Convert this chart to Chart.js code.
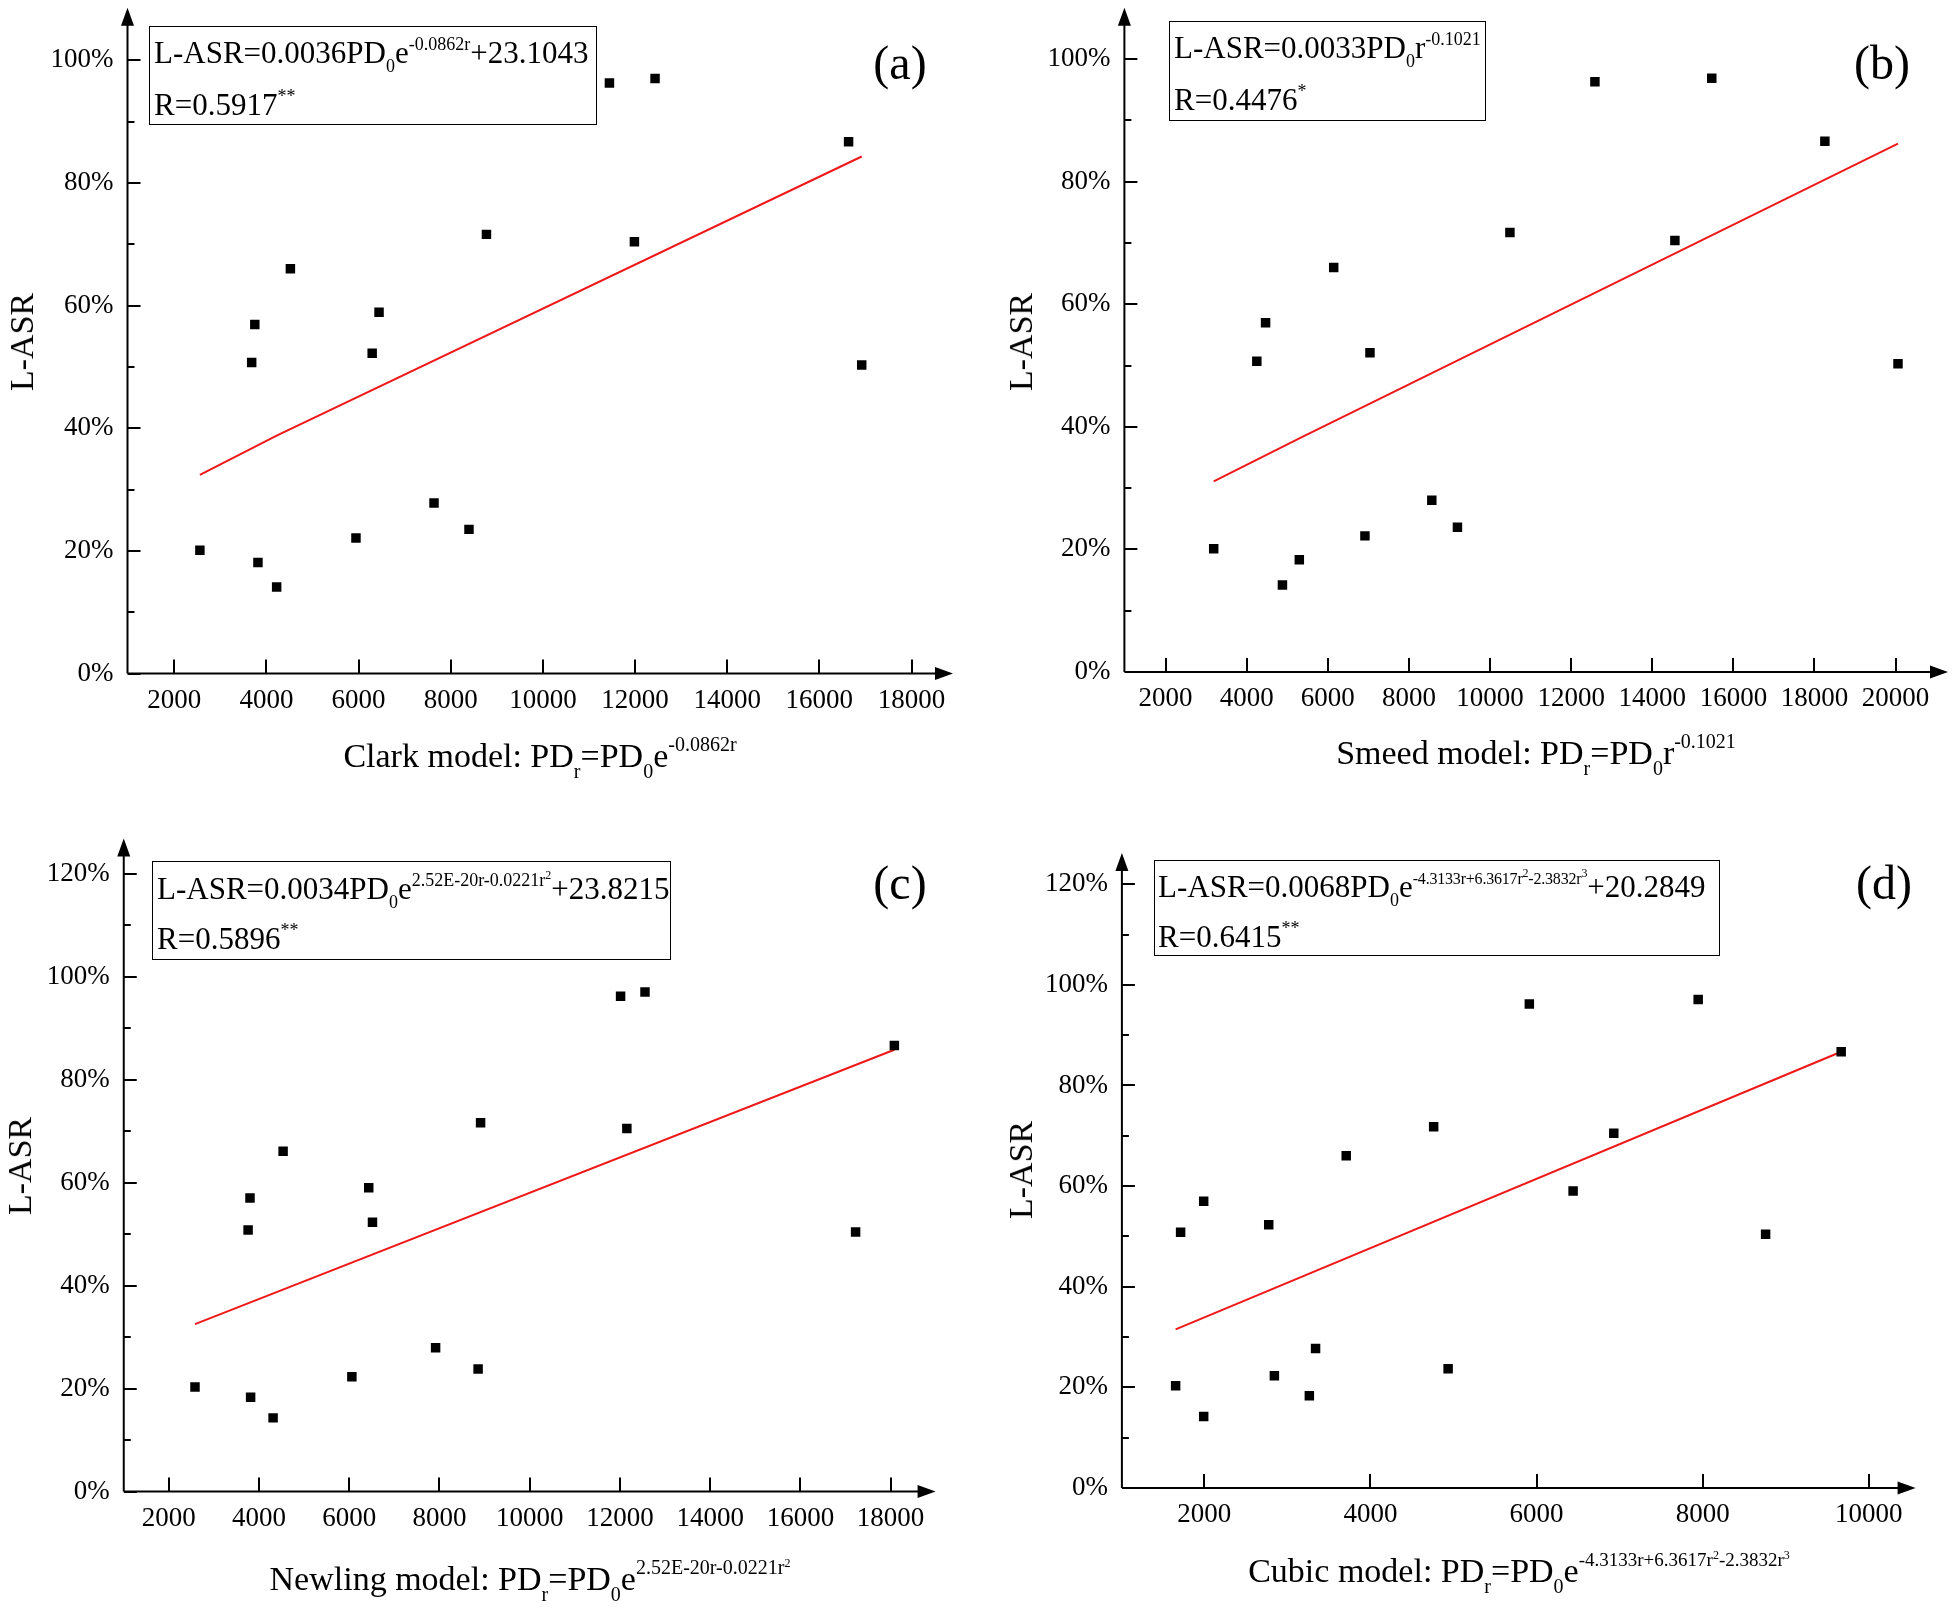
<!DOCTYPE html>
<html>
<head>
<meta charset="utf-8">
<script src="https://cdn.jsdelivr.net/npm/chart.js@4/dist/chart.umd.min.js"></script>
<style>
  body { margin: 0; background: #fff; }
  #wrap { position: relative; width: 1960px; height: 1608px; overflow: hidden; background: #fff;
          font-family: "Liberation Serif", "Times New Roman", serif; color: #000; }
  canvas { position: absolute; }
  .txt { position: absolute; white-space: nowrap; }
  .box { position: absolute; border: 1.5px solid #000; box-sizing: border-box; }
  .sb, .sp, .sp2 { position: relative; }
  .t34 { font-size: 34px; line-height: 34px; }
  .t34 .sb { font-size: 20px; top: 11px; }
  .t34 .sp { font-size: 20px; top: -16px; }
  .t31 { font-size: 31px; line-height: 31px; }
  .t31 .sb { font-size: 18px; top: 9px; }
  .t31 .sp { font-size: 18px; top: -13px; }
  .t31 .sp.narrow { font-size: 16px; letter-spacing: -0.2px; }
  .t34 .sp.narrow { font-size: 19px; }
  .sp .sp2 { font-size: 12px; top: -7px; }
  .lab { font-size: 48px; line-height: 48px; width: 100px; text-align: center; }
  .ytitle { font-size: 34px; line-height: 34px; transform: translate(-50%, -50%) rotate(-90deg); }
  .xtitle { width: 900px; text-align: center; }
</style>
</head>
<body>
<div id="wrap">
  <canvas id="chartA"></canvas>
  <canvas id="chartB"></canvas>
  <canvas id="chartC"></canvas>
  <canvas id="chartD"></canvas>

  <!-- y axis titles -->
  <div class="txt ytitle" style="left:22px;top:342px">L-ASR</div>
  <div class="txt ytitle" style="left:1021px;top:342px">L-ASR</div>
  <div class="txt ytitle" style="left:20px;top:1166px">L-ASR</div>
  <div class="txt ytitle" style="left:1021px;top:1170px">L-ASR</div>

  <!-- x axis titles -->
  <div class="txt t34 xtitle" style="left:90px;top:739px">Clark model: PD<span class="sb">r</span>=PD<span class="sb">0</span>e<span class="sp">-0.0862r</span></div>
  <div class="txt t34 xtitle" style="left:1086px;top:736px">Smeed model: PD<span class="sb">r</span>=PD<span class="sb">0</span>r<span class="sp">-0.1021</span></div>
  <div class="txt t34 xtitle" style="left:80px;top:1562px">Newling model: PD<span class="sb">r</span>=PD<span class="sb">0</span>e<span class="sp">2.52E-20r-0.0221r<span class="sp2">2</span></span></div>
  <div class="txt t34 xtitle" style="left:1069px;top:1554px">Cubic model: PD<span class="sb">r</span>=PD<span class="sb">0</span>e<span class="sp narrow">-4.3133r+6.3617r<span class="sp2">2</span>-2.3832r<span class="sp2">3</span></span></div>

  <!-- equation boxes -->
  <div class="box" style="left:149px;top:26px;width:448px;height:99px"></div>
  <div class="txt t31" style="left:154px;top:37px">L-ASR=0.0036PD<span class="sb">0</span>e<span class="sp">-0.0862r</span>+23.1043</div>
  <div class="txt t31" style="left:154px;top:89px">R=0.5917<span class="sp">**</span></div>

  <div class="box" style="left:1169px;top:21px;width:317px;height:100px"></div>
  <div class="txt t31" style="left:1174px;top:32px">L-ASR=0.0033PD<span class="sb">0</span>r<span class="sp">-0.1021</span></div>
  <div class="txt t31" style="left:1174px;top:84px">R=0.4476<span class="sp">*</span></div>

  <div class="box" style="left:152px;top:861px;width:519px;height:99px"></div>
  <div class="txt t31" style="left:157px;top:873px">L-ASR=0.0034PD<span class="sb">0</span>e<span class="sp">2.52E-20r-0.0221r<span class="sp2">2</span></span>+23.8215</div>
  <div class="txt t31" style="left:157px;top:923px">R=0.5896<span class="sp">**</span></div>

  <div class="box" style="left:1154px;top:860px;width:566px;height:96px"></div>
  <div class="txt t31" style="left:1158px;top:871px">L-ASR=0.0068PD<span class="sb">0</span>e<span class="sp narrow">-4.3133r+6.3617r<span class="sp2">2</span>-2.3832r<span class="sp2">3</span></span>+20.2849</div>
  <div class="txt t31" style="left:1158px;top:921px">R=0.6415<span class="sp">**</span></div>

  <!-- panel labels -->
  <div class="txt lab" style="left:850px;top:39px">(a)</div>
  <div class="txt lab" style="left:1832px;top:39px">(b)</div>
  <div class="txt lab" style="left:850px;top:859px">(c)</div>
  <div class="txt lab" style="left:1834px;top:859px">(d)</div>
</div>

<script>
// (a) Clark model
const clarkX = [2556, 3680, 3748, 3816, 4222, 4520, 5943, 6295, 6444, 7637, 8396, 8775, 11444, 11986, 12434, 16634, 16919];
const clarkY = [20.1, 50.7, 56.9, 18.1, 14.1, 66.0, 22.1, 52.2, 58.9, 27.8, 23.5, 71.6, 96.3, 70.4, 97.0, 86.7, 50.3];
const clarkFitX = [2556, 4222, 16919];
const clarkFitY = [32.4, 38.8, 84.3];

// (b) Smeed model
const smeedX = [3186, 4249, 4465, 4881, 5297, 6145, 6915, 7039, 8564, 9196, 10490, 12586, 14558, 15467, 18256, 20059];
const smeedY = [20.1, 50.7, 57.0, 14.2, 18.3, 66.0, 22.2, 52.1, 28.0, 23.6, 71.7, 96.3, 70.4, 96.9, 86.6, 50.3];
const smeedFitX = [3186, 5359, 20059];
const smeedFitY = [31.1, 38.3, 86.2];

// (c) Newling model
const newlingX = [2582, 3759, 3801, 3815, 4313, 4535, 6059, 6433, 6516, 7915, 8857, 8912, 12015, 12154, 12556, 17224, 18083];
const newlingY = [20.3, 50.8, 57.0, 18.3, 14.3, 66.1, 22.3, 59.0, 52.3, 27.9, 23.8, 71.6, 96.2, 70.5, 97.0, 50.4, 86.6];
const newlingFitX = [2582, 18083];
const newlingFitY = [32.5, 85.8];

// (d) Cubic model
const cubicX = [1654, 1714, 1992, 1992, 2775, 2843, 3264, 3339, 3708, 4761, 4935, 5913, 6440, 6930, 7946, 8758, 9668];
const cubicY = [20.3, 50.8, 57.0, 14.2, 52.3, 22.3, 18.3, 27.7, 66.0, 71.8, 23.7, 96.2, 59.0, 70.5, 97.1, 50.4, 86.7];
const cubicFitX = [1654, 9668];
const cubicFitY = [31.5, 86.7];

// tick values
const xTicks18 = [2000, 4000, 6000, 8000, 10000, 12000, 14000, 16000, 18000];
const xTicks20 = [2000, 4000, 6000, 8000, 10000, 12000, 14000, 16000, 18000, 20000];
const xTicks10 = [2000, 4000, 6000, 8000, 10000];
const yTicks100 = [0, 20, 40, 60, 80, 100];
const yMinor100 = [10, 30, 50, 70, 90];
const yTicks120 = [0, 20, 40, 60, 80, 100, 120];
const yMinor120 = [10, 30, 50, 70, 90, 110];

const FONT = "'Liberation Serif', 'Times New Roman', serif";
// extra room around each panel so Chart.js never has to shrink the plot area for labels
const MARGIN = 60;

// inward ticks + arrow heads, Origin style
const axisDeco = {
  id: "axisDeco",
  afterDraw(chart, args, opts) {
    const ctx = chart.ctx;
    const a = chart.chartArea;
    const xs = chart.scales.x;
    const ys = chart.scales.y;
    ctx.save();
    ctx.strokeStyle = "#000";
    ctx.fillStyle = "#000";
    ctx.lineWidth = 2;
    ctx.beginPath();
    ctx.moveTo(a.left, a.bottom);
    ctx.lineTo(a.right - 10, a.bottom);
    ctx.moveTo(a.left, a.bottom);
    ctx.lineTo(a.left, a.top + 10);
    opts.xTicks.forEach(v => {
      const px = Math.round(xs.getPixelForValue(v));
      ctx.moveTo(px, a.bottom);
      ctx.lineTo(px, a.bottom - 14);
    });
    opts.yTicks.forEach(v => {
      const py = Math.round(ys.getPixelForValue(v));
      ctx.moveTo(a.left, py);
      ctx.lineTo(a.left + 13, py);
    });
    opts.yMinor.forEach(v => {
      const py = Math.round(ys.getPixelForValue(v));
      ctx.moveTo(a.left, py);
      ctx.lineTo(a.left + 7, py);
    });
    ctx.stroke();

    ctx.beginPath();
    ctx.moveTo(a.right, a.bottom);
    ctx.lineTo(a.right - 18, a.bottom - 6.5);
    ctx.lineTo(a.right - 18, a.bottom + 6.5);
    ctx.closePath();
    ctx.moveTo(a.left, a.top);
    ctx.lineTo(a.left - 6.5, a.top + 18);
    ctx.lineTo(a.left + 6.5, a.top + 18);
    ctx.closePath();
    ctx.fill();
    ctx.restore();
  }
};

function toPoints(xs, ys) {
  return xs.map((x, i) => ({ x: x, y: ys[i] }));
}

function makePanel(p) {
  const canvas = document.getElementById(p.id);
  const W = p.w + 2 * MARGIN;
  const H = p.h + 2 * MARGIN;
  canvas.width = W;
  canvas.height = H;
  canvas.style.left = (p.left - MARGIN) + "px";
  canvas.style.top = (p.top - MARGIN) + "px";

  return new Chart(canvas.getContext("2d"), {
    type: "scatter",
    data: {
      datasets: [
        {
          data: toPoints(p.x, p.y),
          pointStyle: "rect",
          pointRadius: 6.7,
          backgroundColor: "#000",
          borderWidth: 0
        },
        {
          data: toPoints(p.fitX, p.fitY),
          showLine: true,
          borderColor: "rgb(238, 24, 24)",
          borderWidth: 2,
          pointRadius: 0,
          tension: 0
        }
      ]
    },
    options: {
      responsive: false,
      animation: false,
      events: [],
      layout: {
        padding: { left: 0, top: p.area.top + MARGIN, right: p.w - p.area.right + MARGIN, bottom: 0 }
      },
      plugins: {
        legend: { display: false },
        tooltip: { enabled: false },
        axisDeco: { xTicks: p.xTicks, yTicks: p.yTicks, yMinor: p.yMinor }
      },
      scales: {
        x: {
          type: "linear",
          min: p.xMin,
          max: p.xMax,
          afterBuildTicks: s => { s.ticks = p.xTicks.map(v => ({ value: v })); },
          afterFit: s => { s.height = p.h - p.area.bottom + MARGIN; },
          grid: { display: false, drawTicks: false },
          border: { display: false },
          ticks: {
            color: "#000",
            padding: 11,
            maxRotation: 0,
            autoSkip: false,
            font: { family: FONT, size: 27 },
            callback: v => String(v)
          }
        },
        y: {
          type: "linear",
          min: 0,
          max: p.yMax,
          afterBuildTicks: s => { s.ticks = p.yTicks.map(v => ({ value: v })); },
          afterFit: s => { s.width = p.area.left + MARGIN; },
          grid: { display: false, drawTicks: false },
          border: { display: false },
          ticks: {
            color: "#000",
            padding: 14,
            autoSkip: false,
            font: { family: FONT, size: 27 },
            callback: v => v + "%"
          }
        }
      }
    },
    plugins: [axisDeco]
  });
}

makePanel({
  id: "chartA", left: 0, top: 0, w: 980, h: 800,
  x: clarkX, y: clarkY, fitX: clarkFitX, fitY: clarkFitY,
  xTicks: xTicks18, yTicks: yTicks100, yMinor: yMinor100,
  xMin: 985, xMax: 18900, yMax: 108.56,
  area: { left: 127.5, top: 7.7, right: 953, bottom: 673.5 }
});
makePanel({
  id: "chartB", left: 980, top: 0, w: 980, h: 800,
  x: smeedX, y: smeedY, fitX: smeedFitX, fitY: smeedFitY,
  xTicks: xTicks20, yTicks: yTicks100, yMinor: yMinor100,
  xMin: 984, xMax: 21292, yMax: 108.4,
  area: { left: 144.4, top: 7.7, right: 968, bottom: 671.9 }
});
makePanel({
  id: "chartC", left: 0, top: 800, w: 980, h: 808,
  x: newlingX, y: newlingY, fitX: newlingFitX, fitY: newlingFitY,
  xTicks: xTicks18, yTicks: yTicks120, yMinor: yMinor120,
  xMin: 1003, xMax: 18997, yMax: 126.8,
  area: { left: 123.75, top: 38.6, right: 935.6, bottom: 691.5 }
});
makePanel({
  id: "chartD", left: 980, top: 800, w: 980, h: 808,
  x: cubicX, y: cubicY, fitX: cubicFitX, fitY: cubicFitY,
  xTicks: xTicks10, yTicks: yTicks120, yMinor: yMinor120,
  xMin: 1007, xMax: 10564, yMax: 126.2,
  area: { left: 141.9, top: 53, right: 935.6, bottom: 687.9 }
});
</script>
</body>
</html>
